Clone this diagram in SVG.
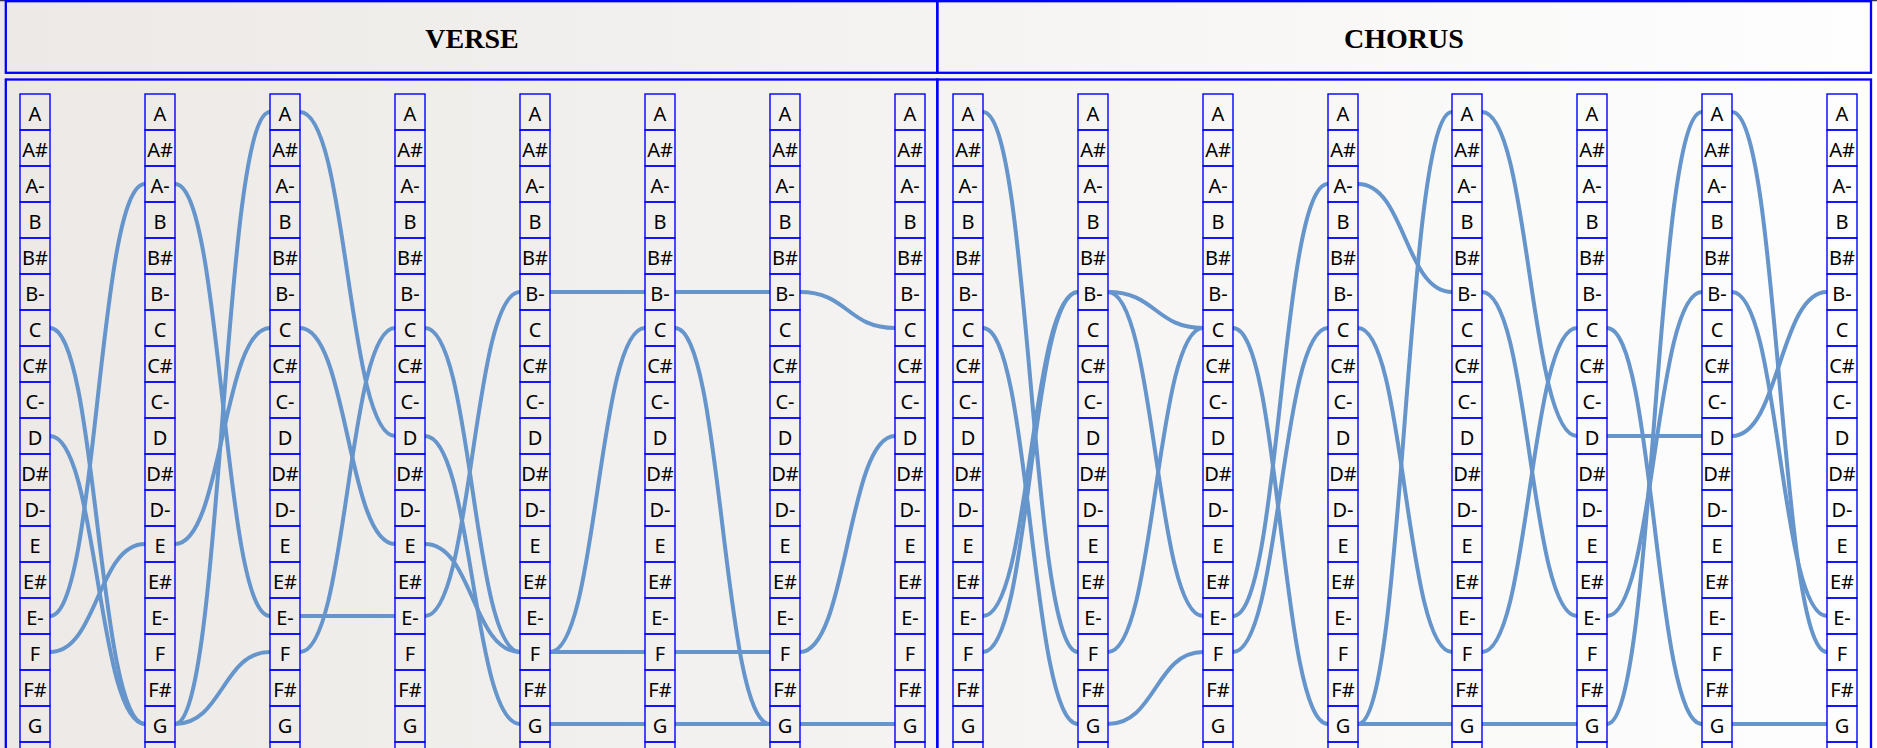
<svg xmlns="http://www.w3.org/2000/svg" width="1877" height="748" viewBox="0 0 1877 748">
<defs>
<linearGradient id="bg" x1="0" y1="0" x2="1877" y2="0" gradientUnits="userSpaceOnUse">
<stop offset="0" stop-color="#ece9e6"/>
<stop offset="1" stop-color="#fefefe"/>
</linearGradient>
<rect id="b" x="-15" y="0" width="30" height="36"/>
</defs>
<style>
.frame{fill:none;stroke:#0000ff;stroke-width:2.3}
.title{font-family:"Liberation Serif","Times New Roman",serif;font-weight:bold;font-size:28px;fill:#000;text-anchor:middle}
.col use{fill:none;stroke:#0000ff;stroke-width:1.4}
.col text{font-family:"Noto Sans","Open Sans",sans-serif;font-size:20px;fill:#000;text-anchor:middle}
.links path{fill:none;stroke:#6595cb;stroke-width:4}
</style>
<rect x="0" y="0" width="1877" height="748" fill="url(#bg)"/>
<line x1="0" y1="0.5" x2="1877" y2="0.5" stroke="#34345a" stroke-width="1.5"/>
<g id="header">
<rect class="frame" x="5.8" y="1.2" width="931.5" height="71.6"/>
<rect class="frame" x="937.3" y="1.2" width="933.7" height="71.6"/>
<text class="title" x="472" y="48">VERSE</text>
<text class="title" x="1404" y="48">CHORUS</text>
</g>
<g id="panels">
<rect class="frame" x="5.8" y="79.5" width="931.5" height="700"/>
<rect class="frame" x="937.3" y="79.5" width="933.7" height="700"/>
</g>
<g id="connectors" class="links">
<path d="M50 328C97.5 328 97.5 724 145 724"/>
<path d="M50 436C97.5 436 97.5 724 145 724"/>
<path d="M50 616C97.5 616 97.5 184 145 184"/>
<path d="M50 652C97.5 652 97.5 544 145 544"/>
<path d="M175 184C222.5 184 222.5 616 270 616"/>
<path d="M175 544C222.5 544 222.5 328 270 328"/>
<path d="M175 724C222.5 724 222.5 112 270 112"/>
<path d="M175 724C222.5 724 222.5 652 270 652"/>
<path d="M300 112C347.5 112 347.5 436 395 436"/>
<path d="M300 328C347.5 328 347.5 544 395 544"/>
<path d="M300 616H395"/>
<path d="M300 652C347.5 652 347.5 328 395 328"/>
<path d="M425 328C472.5 328 472.5 652 520 652"/>
<path d="M425 436C472.5 436 472.5 724 520 724"/>
<path d="M425 544C472.5 544 472.5 652 520 652"/>
<path d="M425 616C472.5 616 472.5 292 520 292"/>
<path d="M550 292H645"/>
<path d="M550 652C597.5 652 597.5 328 645 328"/>
<path d="M550 652H645"/>
<path d="M550 724H645"/>
<path d="M675 292H770"/>
<path d="M675 328C722.5 328 722.5 724 770 724"/>
<path d="M675 652H770"/>
<path d="M675 724H770"/>
<path d="M800 292C847.5 292 847.5 328 895 328"/>
<path d="M800 652C847.5 652 847.5 436 895 436"/>
<path d="M800 724H895"/>
<path d="M983 112C1030.5 112 1030.5 652 1078 652"/>
<path d="M983 328C1030.5 328 1030.5 724 1078 724"/>
<path d="M983 616C1030.5 616 1030.5 292 1078 292"/>
<path d="M983 652C1030.5 652 1030.5 292 1078 292"/>
<path d="M1108 292C1155.5 292 1155.5 328 1203 328"/>
<path d="M1108 292C1155.5 292 1155.5 616 1203 616"/>
<path d="M1108 652C1155.5 652 1155.5 328 1203 328"/>
<path d="M1108 724C1155.5 724 1155.5 652 1203 652"/>
<path d="M1233 328C1280.5 328 1280.5 724 1328 724"/>
<path d="M1233 616C1280.5 616 1280.5 184 1328 184"/>
<path d="M1233 652C1280.5 652 1280.5 328 1328 328"/>
<path d="M1358 184C1405 184 1405 292 1452 292"/>
<path d="M1358 328C1405 328 1405 652 1452 652"/>
<path d="M1358 724C1405 724 1405 112 1452 112"/>
<path d="M1358 724H1452"/>
<path d="M1482 112C1529.5 112 1529.5 436 1577 436"/>
<path d="M1482 292C1529.5 292 1529.5 616 1577 616"/>
<path d="M1482 652C1529.5 652 1529.5 328 1577 328"/>
<path d="M1482 724H1577"/>
<path d="M1607 328C1654.5 328 1654.5 724 1702 724"/>
<path d="M1607 436H1702"/>
<path d="M1607 616C1654.5 616 1654.5 292 1702 292"/>
<path d="M1607 724C1654.5 724 1654.5 112 1702 112"/>
<path d="M1732 112C1779.5 112 1779.5 652 1827 652"/>
<path d="M1732 292C1779.5 292 1779.5 616 1827 616"/>
<path d="M1732 436C1779.5 436 1779.5 292 1827 292"/>
<path d="M1732 724H1827"/>
</g>
<g id="v1" class="col" transform="translate(35 0)">
<g id="v1-A"><use href="#b" y="94"/><text y="121">A</text></g>
<g id="v1-As"><use href="#b" y="130"/><text y="157">A#</text></g>
<g id="v1-Am"><use href="#b" y="166"/><text y="193">A-</text></g>
<g id="v1-B"><use href="#b" y="202"/><text y="229">B</text></g>
<g id="v1-Bs"><use href="#b" y="238"/><text y="265">B#</text></g>
<g id="v1-Bm"><use href="#b" y="274"/><text y="301">B-</text></g>
<g id="v1-C"><use href="#b" y="310"/><text y="337">C</text></g>
<g id="v1-Cs"><use href="#b" y="346"/><text y="373">C#</text></g>
<g id="v1-Cm"><use href="#b" y="382"/><text y="409">C-</text></g>
<g id="v1-D"><use href="#b" y="418"/><text y="445">D</text></g>
<g id="v1-Ds"><use href="#b" y="454"/><text y="481">D#</text></g>
<g id="v1-Dm"><use href="#b" y="490"/><text y="517">D-</text></g>
<g id="v1-E"><use href="#b" y="526"/><text y="553">E</text></g>
<g id="v1-Es"><use href="#b" y="562"/><text y="589">E#</text></g>
<g id="v1-Em"><use href="#b" y="598"/><text y="625">E-</text></g>
<g id="v1-F"><use href="#b" y="634"/><text y="661">F</text></g>
<g id="v1-Fs"><use href="#b" y="670"/><text y="697">F#</text></g>
<g id="v1-G"><use href="#b" y="706"/><text y="733">G</text></g>
<g id="v1-x"><use href="#b" y="742"/></g>
</g>
<g id="v2" class="col" transform="translate(160 0)">
<g id="v2-A"><use href="#b" y="94"/><text y="121">A</text></g>
<g id="v2-As"><use href="#b" y="130"/><text y="157">A#</text></g>
<g id="v2-Am"><use href="#b" y="166"/><text y="193">A-</text></g>
<g id="v2-B"><use href="#b" y="202"/><text y="229">B</text></g>
<g id="v2-Bs"><use href="#b" y="238"/><text y="265">B#</text></g>
<g id="v2-Bm"><use href="#b" y="274"/><text y="301">B-</text></g>
<g id="v2-C"><use href="#b" y="310"/><text y="337">C</text></g>
<g id="v2-Cs"><use href="#b" y="346"/><text y="373">C#</text></g>
<g id="v2-Cm"><use href="#b" y="382"/><text y="409">C-</text></g>
<g id="v2-D"><use href="#b" y="418"/><text y="445">D</text></g>
<g id="v2-Ds"><use href="#b" y="454"/><text y="481">D#</text></g>
<g id="v2-Dm"><use href="#b" y="490"/><text y="517">D-</text></g>
<g id="v2-E"><use href="#b" y="526"/><text y="553">E</text></g>
<g id="v2-Es"><use href="#b" y="562"/><text y="589">E#</text></g>
<g id="v2-Em"><use href="#b" y="598"/><text y="625">E-</text></g>
<g id="v2-F"><use href="#b" y="634"/><text y="661">F</text></g>
<g id="v2-Fs"><use href="#b" y="670"/><text y="697">F#</text></g>
<g id="v2-G"><use href="#b" y="706"/><text y="733">G</text></g>
<g id="v2-x"><use href="#b" y="742"/></g>
</g>
<g id="v3" class="col" transform="translate(285 0)">
<g id="v3-A"><use href="#b" y="94"/><text y="121">A</text></g>
<g id="v3-As"><use href="#b" y="130"/><text y="157">A#</text></g>
<g id="v3-Am"><use href="#b" y="166"/><text y="193">A-</text></g>
<g id="v3-B"><use href="#b" y="202"/><text y="229">B</text></g>
<g id="v3-Bs"><use href="#b" y="238"/><text y="265">B#</text></g>
<g id="v3-Bm"><use href="#b" y="274"/><text y="301">B-</text></g>
<g id="v3-C"><use href="#b" y="310"/><text y="337">C</text></g>
<g id="v3-Cs"><use href="#b" y="346"/><text y="373">C#</text></g>
<g id="v3-Cm"><use href="#b" y="382"/><text y="409">C-</text></g>
<g id="v3-D"><use href="#b" y="418"/><text y="445">D</text></g>
<g id="v3-Ds"><use href="#b" y="454"/><text y="481">D#</text></g>
<g id="v3-Dm"><use href="#b" y="490"/><text y="517">D-</text></g>
<g id="v3-E"><use href="#b" y="526"/><text y="553">E</text></g>
<g id="v3-Es"><use href="#b" y="562"/><text y="589">E#</text></g>
<g id="v3-Em"><use href="#b" y="598"/><text y="625">E-</text></g>
<g id="v3-F"><use href="#b" y="634"/><text y="661">F</text></g>
<g id="v3-Fs"><use href="#b" y="670"/><text y="697">F#</text></g>
<g id="v3-G"><use href="#b" y="706"/><text y="733">G</text></g>
<g id="v3-x"><use href="#b" y="742"/></g>
</g>
<g id="v4" class="col" transform="translate(410 0)">
<g id="v4-A"><use href="#b" y="94"/><text y="121">A</text></g>
<g id="v4-As"><use href="#b" y="130"/><text y="157">A#</text></g>
<g id="v4-Am"><use href="#b" y="166"/><text y="193">A-</text></g>
<g id="v4-B"><use href="#b" y="202"/><text y="229">B</text></g>
<g id="v4-Bs"><use href="#b" y="238"/><text y="265">B#</text></g>
<g id="v4-Bm"><use href="#b" y="274"/><text y="301">B-</text></g>
<g id="v4-C"><use href="#b" y="310"/><text y="337">C</text></g>
<g id="v4-Cs"><use href="#b" y="346"/><text y="373">C#</text></g>
<g id="v4-Cm"><use href="#b" y="382"/><text y="409">C-</text></g>
<g id="v4-D"><use href="#b" y="418"/><text y="445">D</text></g>
<g id="v4-Ds"><use href="#b" y="454"/><text y="481">D#</text></g>
<g id="v4-Dm"><use href="#b" y="490"/><text y="517">D-</text></g>
<g id="v4-E"><use href="#b" y="526"/><text y="553">E</text></g>
<g id="v4-Es"><use href="#b" y="562"/><text y="589">E#</text></g>
<g id="v4-Em"><use href="#b" y="598"/><text y="625">E-</text></g>
<g id="v4-F"><use href="#b" y="634"/><text y="661">F</text></g>
<g id="v4-Fs"><use href="#b" y="670"/><text y="697">F#</text></g>
<g id="v4-G"><use href="#b" y="706"/><text y="733">G</text></g>
<g id="v4-x"><use href="#b" y="742"/></g>
</g>
<g id="v5" class="col" transform="translate(535 0)">
<g id="v5-A"><use href="#b" y="94"/><text y="121">A</text></g>
<g id="v5-As"><use href="#b" y="130"/><text y="157">A#</text></g>
<g id="v5-Am"><use href="#b" y="166"/><text y="193">A-</text></g>
<g id="v5-B"><use href="#b" y="202"/><text y="229">B</text></g>
<g id="v5-Bs"><use href="#b" y="238"/><text y="265">B#</text></g>
<g id="v5-Bm"><use href="#b" y="274"/><text y="301">B-</text></g>
<g id="v5-C"><use href="#b" y="310"/><text y="337">C</text></g>
<g id="v5-Cs"><use href="#b" y="346"/><text y="373">C#</text></g>
<g id="v5-Cm"><use href="#b" y="382"/><text y="409">C-</text></g>
<g id="v5-D"><use href="#b" y="418"/><text y="445">D</text></g>
<g id="v5-Ds"><use href="#b" y="454"/><text y="481">D#</text></g>
<g id="v5-Dm"><use href="#b" y="490"/><text y="517">D-</text></g>
<g id="v5-E"><use href="#b" y="526"/><text y="553">E</text></g>
<g id="v5-Es"><use href="#b" y="562"/><text y="589">E#</text></g>
<g id="v5-Em"><use href="#b" y="598"/><text y="625">E-</text></g>
<g id="v5-F"><use href="#b" y="634"/><text y="661">F</text></g>
<g id="v5-Fs"><use href="#b" y="670"/><text y="697">F#</text></g>
<g id="v5-G"><use href="#b" y="706"/><text y="733">G</text></g>
<g id="v5-x"><use href="#b" y="742"/></g>
</g>
<g id="v6" class="col" transform="translate(660 0)">
<g id="v6-A"><use href="#b" y="94"/><text y="121">A</text></g>
<g id="v6-As"><use href="#b" y="130"/><text y="157">A#</text></g>
<g id="v6-Am"><use href="#b" y="166"/><text y="193">A-</text></g>
<g id="v6-B"><use href="#b" y="202"/><text y="229">B</text></g>
<g id="v6-Bs"><use href="#b" y="238"/><text y="265">B#</text></g>
<g id="v6-Bm"><use href="#b" y="274"/><text y="301">B-</text></g>
<g id="v6-C"><use href="#b" y="310"/><text y="337">C</text></g>
<g id="v6-Cs"><use href="#b" y="346"/><text y="373">C#</text></g>
<g id="v6-Cm"><use href="#b" y="382"/><text y="409">C-</text></g>
<g id="v6-D"><use href="#b" y="418"/><text y="445">D</text></g>
<g id="v6-Ds"><use href="#b" y="454"/><text y="481">D#</text></g>
<g id="v6-Dm"><use href="#b" y="490"/><text y="517">D-</text></g>
<g id="v6-E"><use href="#b" y="526"/><text y="553">E</text></g>
<g id="v6-Es"><use href="#b" y="562"/><text y="589">E#</text></g>
<g id="v6-Em"><use href="#b" y="598"/><text y="625">E-</text></g>
<g id="v6-F"><use href="#b" y="634"/><text y="661">F</text></g>
<g id="v6-Fs"><use href="#b" y="670"/><text y="697">F#</text></g>
<g id="v6-G"><use href="#b" y="706"/><text y="733">G</text></g>
<g id="v6-x"><use href="#b" y="742"/></g>
</g>
<g id="v7" class="col" transform="translate(785 0)">
<g id="v7-A"><use href="#b" y="94"/><text y="121">A</text></g>
<g id="v7-As"><use href="#b" y="130"/><text y="157">A#</text></g>
<g id="v7-Am"><use href="#b" y="166"/><text y="193">A-</text></g>
<g id="v7-B"><use href="#b" y="202"/><text y="229">B</text></g>
<g id="v7-Bs"><use href="#b" y="238"/><text y="265">B#</text></g>
<g id="v7-Bm"><use href="#b" y="274"/><text y="301">B-</text></g>
<g id="v7-C"><use href="#b" y="310"/><text y="337">C</text></g>
<g id="v7-Cs"><use href="#b" y="346"/><text y="373">C#</text></g>
<g id="v7-Cm"><use href="#b" y="382"/><text y="409">C-</text></g>
<g id="v7-D"><use href="#b" y="418"/><text y="445">D</text></g>
<g id="v7-Ds"><use href="#b" y="454"/><text y="481">D#</text></g>
<g id="v7-Dm"><use href="#b" y="490"/><text y="517">D-</text></g>
<g id="v7-E"><use href="#b" y="526"/><text y="553">E</text></g>
<g id="v7-Es"><use href="#b" y="562"/><text y="589">E#</text></g>
<g id="v7-Em"><use href="#b" y="598"/><text y="625">E-</text></g>
<g id="v7-F"><use href="#b" y="634"/><text y="661">F</text></g>
<g id="v7-Fs"><use href="#b" y="670"/><text y="697">F#</text></g>
<g id="v7-G"><use href="#b" y="706"/><text y="733">G</text></g>
<g id="v7-x"><use href="#b" y="742"/></g>
</g>
<g id="v8" class="col" transform="translate(910 0)">
<g id="v8-A"><use href="#b" y="94"/><text y="121">A</text></g>
<g id="v8-As"><use href="#b" y="130"/><text y="157">A#</text></g>
<g id="v8-Am"><use href="#b" y="166"/><text y="193">A-</text></g>
<g id="v8-B"><use href="#b" y="202"/><text y="229">B</text></g>
<g id="v8-Bs"><use href="#b" y="238"/><text y="265">B#</text></g>
<g id="v8-Bm"><use href="#b" y="274"/><text y="301">B-</text></g>
<g id="v8-C"><use href="#b" y="310"/><text y="337">C</text></g>
<g id="v8-Cs"><use href="#b" y="346"/><text y="373">C#</text></g>
<g id="v8-Cm"><use href="#b" y="382"/><text y="409">C-</text></g>
<g id="v8-D"><use href="#b" y="418"/><text y="445">D</text></g>
<g id="v8-Ds"><use href="#b" y="454"/><text y="481">D#</text></g>
<g id="v8-Dm"><use href="#b" y="490"/><text y="517">D-</text></g>
<g id="v8-E"><use href="#b" y="526"/><text y="553">E</text></g>
<g id="v8-Es"><use href="#b" y="562"/><text y="589">E#</text></g>
<g id="v8-Em"><use href="#b" y="598"/><text y="625">E-</text></g>
<g id="v8-F"><use href="#b" y="634"/><text y="661">F</text></g>
<g id="v8-Fs"><use href="#b" y="670"/><text y="697">F#</text></g>
<g id="v8-G"><use href="#b" y="706"/><text y="733">G</text></g>
<g id="v8-x"><use href="#b" y="742"/></g>
</g>
<g id="c1" class="col" transform="translate(968 0)">
<g id="c1-A"><use href="#b" y="94"/><text y="121">A</text></g>
<g id="c1-As"><use href="#b" y="130"/><text y="157">A#</text></g>
<g id="c1-Am"><use href="#b" y="166"/><text y="193">A-</text></g>
<g id="c1-B"><use href="#b" y="202"/><text y="229">B</text></g>
<g id="c1-Bs"><use href="#b" y="238"/><text y="265">B#</text></g>
<g id="c1-Bm"><use href="#b" y="274"/><text y="301">B-</text></g>
<g id="c1-C"><use href="#b" y="310"/><text y="337">C</text></g>
<g id="c1-Cs"><use href="#b" y="346"/><text y="373">C#</text></g>
<g id="c1-Cm"><use href="#b" y="382"/><text y="409">C-</text></g>
<g id="c1-D"><use href="#b" y="418"/><text y="445">D</text></g>
<g id="c1-Ds"><use href="#b" y="454"/><text y="481">D#</text></g>
<g id="c1-Dm"><use href="#b" y="490"/><text y="517">D-</text></g>
<g id="c1-E"><use href="#b" y="526"/><text y="553">E</text></g>
<g id="c1-Es"><use href="#b" y="562"/><text y="589">E#</text></g>
<g id="c1-Em"><use href="#b" y="598"/><text y="625">E-</text></g>
<g id="c1-F"><use href="#b" y="634"/><text y="661">F</text></g>
<g id="c1-Fs"><use href="#b" y="670"/><text y="697">F#</text></g>
<g id="c1-G"><use href="#b" y="706"/><text y="733">G</text></g>
<g id="c1-x"><use href="#b" y="742"/></g>
</g>
<g id="c2" class="col" transform="translate(1093 0)">
<g id="c2-A"><use href="#b" y="94"/><text y="121">A</text></g>
<g id="c2-As"><use href="#b" y="130"/><text y="157">A#</text></g>
<g id="c2-Am"><use href="#b" y="166"/><text y="193">A-</text></g>
<g id="c2-B"><use href="#b" y="202"/><text y="229">B</text></g>
<g id="c2-Bs"><use href="#b" y="238"/><text y="265">B#</text></g>
<g id="c2-Bm"><use href="#b" y="274"/><text y="301">B-</text></g>
<g id="c2-C"><use href="#b" y="310"/><text y="337">C</text></g>
<g id="c2-Cs"><use href="#b" y="346"/><text y="373">C#</text></g>
<g id="c2-Cm"><use href="#b" y="382"/><text y="409">C-</text></g>
<g id="c2-D"><use href="#b" y="418"/><text y="445">D</text></g>
<g id="c2-Ds"><use href="#b" y="454"/><text y="481">D#</text></g>
<g id="c2-Dm"><use href="#b" y="490"/><text y="517">D-</text></g>
<g id="c2-E"><use href="#b" y="526"/><text y="553">E</text></g>
<g id="c2-Es"><use href="#b" y="562"/><text y="589">E#</text></g>
<g id="c2-Em"><use href="#b" y="598"/><text y="625">E-</text></g>
<g id="c2-F"><use href="#b" y="634"/><text y="661">F</text></g>
<g id="c2-Fs"><use href="#b" y="670"/><text y="697">F#</text></g>
<g id="c2-G"><use href="#b" y="706"/><text y="733">G</text></g>
<g id="c2-x"><use href="#b" y="742"/></g>
</g>
<g id="c3" class="col" transform="translate(1218 0)">
<g id="c3-A"><use href="#b" y="94"/><text y="121">A</text></g>
<g id="c3-As"><use href="#b" y="130"/><text y="157">A#</text></g>
<g id="c3-Am"><use href="#b" y="166"/><text y="193">A-</text></g>
<g id="c3-B"><use href="#b" y="202"/><text y="229">B</text></g>
<g id="c3-Bs"><use href="#b" y="238"/><text y="265">B#</text></g>
<g id="c3-Bm"><use href="#b" y="274"/><text y="301">B-</text></g>
<g id="c3-C"><use href="#b" y="310"/><text y="337">C</text></g>
<g id="c3-Cs"><use href="#b" y="346"/><text y="373">C#</text></g>
<g id="c3-Cm"><use href="#b" y="382"/><text y="409">C-</text></g>
<g id="c3-D"><use href="#b" y="418"/><text y="445">D</text></g>
<g id="c3-Ds"><use href="#b" y="454"/><text y="481">D#</text></g>
<g id="c3-Dm"><use href="#b" y="490"/><text y="517">D-</text></g>
<g id="c3-E"><use href="#b" y="526"/><text y="553">E</text></g>
<g id="c3-Es"><use href="#b" y="562"/><text y="589">E#</text></g>
<g id="c3-Em"><use href="#b" y="598"/><text y="625">E-</text></g>
<g id="c3-F"><use href="#b" y="634"/><text y="661">F</text></g>
<g id="c3-Fs"><use href="#b" y="670"/><text y="697">F#</text></g>
<g id="c3-G"><use href="#b" y="706"/><text y="733">G</text></g>
<g id="c3-x"><use href="#b" y="742"/></g>
</g>
<g id="c4" class="col" transform="translate(1343 0)">
<g id="c4-A"><use href="#b" y="94"/><text y="121">A</text></g>
<g id="c4-As"><use href="#b" y="130"/><text y="157">A#</text></g>
<g id="c4-Am"><use href="#b" y="166"/><text y="193">A-</text></g>
<g id="c4-B"><use href="#b" y="202"/><text y="229">B</text></g>
<g id="c4-Bs"><use href="#b" y="238"/><text y="265">B#</text></g>
<g id="c4-Bm"><use href="#b" y="274"/><text y="301">B-</text></g>
<g id="c4-C"><use href="#b" y="310"/><text y="337">C</text></g>
<g id="c4-Cs"><use href="#b" y="346"/><text y="373">C#</text></g>
<g id="c4-Cm"><use href="#b" y="382"/><text y="409">C-</text></g>
<g id="c4-D"><use href="#b" y="418"/><text y="445">D</text></g>
<g id="c4-Ds"><use href="#b" y="454"/><text y="481">D#</text></g>
<g id="c4-Dm"><use href="#b" y="490"/><text y="517">D-</text></g>
<g id="c4-E"><use href="#b" y="526"/><text y="553">E</text></g>
<g id="c4-Es"><use href="#b" y="562"/><text y="589">E#</text></g>
<g id="c4-Em"><use href="#b" y="598"/><text y="625">E-</text></g>
<g id="c4-F"><use href="#b" y="634"/><text y="661">F</text></g>
<g id="c4-Fs"><use href="#b" y="670"/><text y="697">F#</text></g>
<g id="c4-G"><use href="#b" y="706"/><text y="733">G</text></g>
<g id="c4-x"><use href="#b" y="742"/></g>
</g>
<g id="c5" class="col" transform="translate(1467 0)">
<g id="c5-A"><use href="#b" y="94"/><text y="121">A</text></g>
<g id="c5-As"><use href="#b" y="130"/><text y="157">A#</text></g>
<g id="c5-Am"><use href="#b" y="166"/><text y="193">A-</text></g>
<g id="c5-B"><use href="#b" y="202"/><text y="229">B</text></g>
<g id="c5-Bs"><use href="#b" y="238"/><text y="265">B#</text></g>
<g id="c5-Bm"><use href="#b" y="274"/><text y="301">B-</text></g>
<g id="c5-C"><use href="#b" y="310"/><text y="337">C</text></g>
<g id="c5-Cs"><use href="#b" y="346"/><text y="373">C#</text></g>
<g id="c5-Cm"><use href="#b" y="382"/><text y="409">C-</text></g>
<g id="c5-D"><use href="#b" y="418"/><text y="445">D</text></g>
<g id="c5-Ds"><use href="#b" y="454"/><text y="481">D#</text></g>
<g id="c5-Dm"><use href="#b" y="490"/><text y="517">D-</text></g>
<g id="c5-E"><use href="#b" y="526"/><text y="553">E</text></g>
<g id="c5-Es"><use href="#b" y="562"/><text y="589">E#</text></g>
<g id="c5-Em"><use href="#b" y="598"/><text y="625">E-</text></g>
<g id="c5-F"><use href="#b" y="634"/><text y="661">F</text></g>
<g id="c5-Fs"><use href="#b" y="670"/><text y="697">F#</text></g>
<g id="c5-G"><use href="#b" y="706"/><text y="733">G</text></g>
<g id="c5-x"><use href="#b" y="742"/></g>
</g>
<g id="c6" class="col" transform="translate(1592 0)">
<g id="c6-A"><use href="#b" y="94"/><text y="121">A</text></g>
<g id="c6-As"><use href="#b" y="130"/><text y="157">A#</text></g>
<g id="c6-Am"><use href="#b" y="166"/><text y="193">A-</text></g>
<g id="c6-B"><use href="#b" y="202"/><text y="229">B</text></g>
<g id="c6-Bs"><use href="#b" y="238"/><text y="265">B#</text></g>
<g id="c6-Bm"><use href="#b" y="274"/><text y="301">B-</text></g>
<g id="c6-C"><use href="#b" y="310"/><text y="337">C</text></g>
<g id="c6-Cs"><use href="#b" y="346"/><text y="373">C#</text></g>
<g id="c6-Cm"><use href="#b" y="382"/><text y="409">C-</text></g>
<g id="c6-D"><use href="#b" y="418"/><text y="445">D</text></g>
<g id="c6-Ds"><use href="#b" y="454"/><text y="481">D#</text></g>
<g id="c6-Dm"><use href="#b" y="490"/><text y="517">D-</text></g>
<g id="c6-E"><use href="#b" y="526"/><text y="553">E</text></g>
<g id="c6-Es"><use href="#b" y="562"/><text y="589">E#</text></g>
<g id="c6-Em"><use href="#b" y="598"/><text y="625">E-</text></g>
<g id="c6-F"><use href="#b" y="634"/><text y="661">F</text></g>
<g id="c6-Fs"><use href="#b" y="670"/><text y="697">F#</text></g>
<g id="c6-G"><use href="#b" y="706"/><text y="733">G</text></g>
<g id="c6-x"><use href="#b" y="742"/></g>
</g>
<g id="c7" class="col" transform="translate(1717 0)">
<g id="c7-A"><use href="#b" y="94"/><text y="121">A</text></g>
<g id="c7-As"><use href="#b" y="130"/><text y="157">A#</text></g>
<g id="c7-Am"><use href="#b" y="166"/><text y="193">A-</text></g>
<g id="c7-B"><use href="#b" y="202"/><text y="229">B</text></g>
<g id="c7-Bs"><use href="#b" y="238"/><text y="265">B#</text></g>
<g id="c7-Bm"><use href="#b" y="274"/><text y="301">B-</text></g>
<g id="c7-C"><use href="#b" y="310"/><text y="337">C</text></g>
<g id="c7-Cs"><use href="#b" y="346"/><text y="373">C#</text></g>
<g id="c7-Cm"><use href="#b" y="382"/><text y="409">C-</text></g>
<g id="c7-D"><use href="#b" y="418"/><text y="445">D</text></g>
<g id="c7-Ds"><use href="#b" y="454"/><text y="481">D#</text></g>
<g id="c7-Dm"><use href="#b" y="490"/><text y="517">D-</text></g>
<g id="c7-E"><use href="#b" y="526"/><text y="553">E</text></g>
<g id="c7-Es"><use href="#b" y="562"/><text y="589">E#</text></g>
<g id="c7-Em"><use href="#b" y="598"/><text y="625">E-</text></g>
<g id="c7-F"><use href="#b" y="634"/><text y="661">F</text></g>
<g id="c7-Fs"><use href="#b" y="670"/><text y="697">F#</text></g>
<g id="c7-G"><use href="#b" y="706"/><text y="733">G</text></g>
<g id="c7-x"><use href="#b" y="742"/></g>
</g>
<g id="c8" class="col" transform="translate(1842 0)">
<g id="c8-A"><use href="#b" y="94"/><text y="121">A</text></g>
<g id="c8-As"><use href="#b" y="130"/><text y="157">A#</text></g>
<g id="c8-Am"><use href="#b" y="166"/><text y="193">A-</text></g>
<g id="c8-B"><use href="#b" y="202"/><text y="229">B</text></g>
<g id="c8-Bs"><use href="#b" y="238"/><text y="265">B#</text></g>
<g id="c8-Bm"><use href="#b" y="274"/><text y="301">B-</text></g>
<g id="c8-C"><use href="#b" y="310"/><text y="337">C</text></g>
<g id="c8-Cs"><use href="#b" y="346"/><text y="373">C#</text></g>
<g id="c8-Cm"><use href="#b" y="382"/><text y="409">C-</text></g>
<g id="c8-D"><use href="#b" y="418"/><text y="445">D</text></g>
<g id="c8-Ds"><use href="#b" y="454"/><text y="481">D#</text></g>
<g id="c8-Dm"><use href="#b" y="490"/><text y="517">D-</text></g>
<g id="c8-E"><use href="#b" y="526"/><text y="553">E</text></g>
<g id="c8-Es"><use href="#b" y="562"/><text y="589">E#</text></g>
<g id="c8-Em"><use href="#b" y="598"/><text y="625">E-</text></g>
<g id="c8-F"><use href="#b" y="634"/><text y="661">F</text></g>
<g id="c8-Fs"><use href="#b" y="670"/><text y="697">F#</text></g>
<g id="c8-G"><use href="#b" y="706"/><text y="733">G</text></g>
<g id="c8-x"><use href="#b" y="742"/></g>
</g>
</svg>
